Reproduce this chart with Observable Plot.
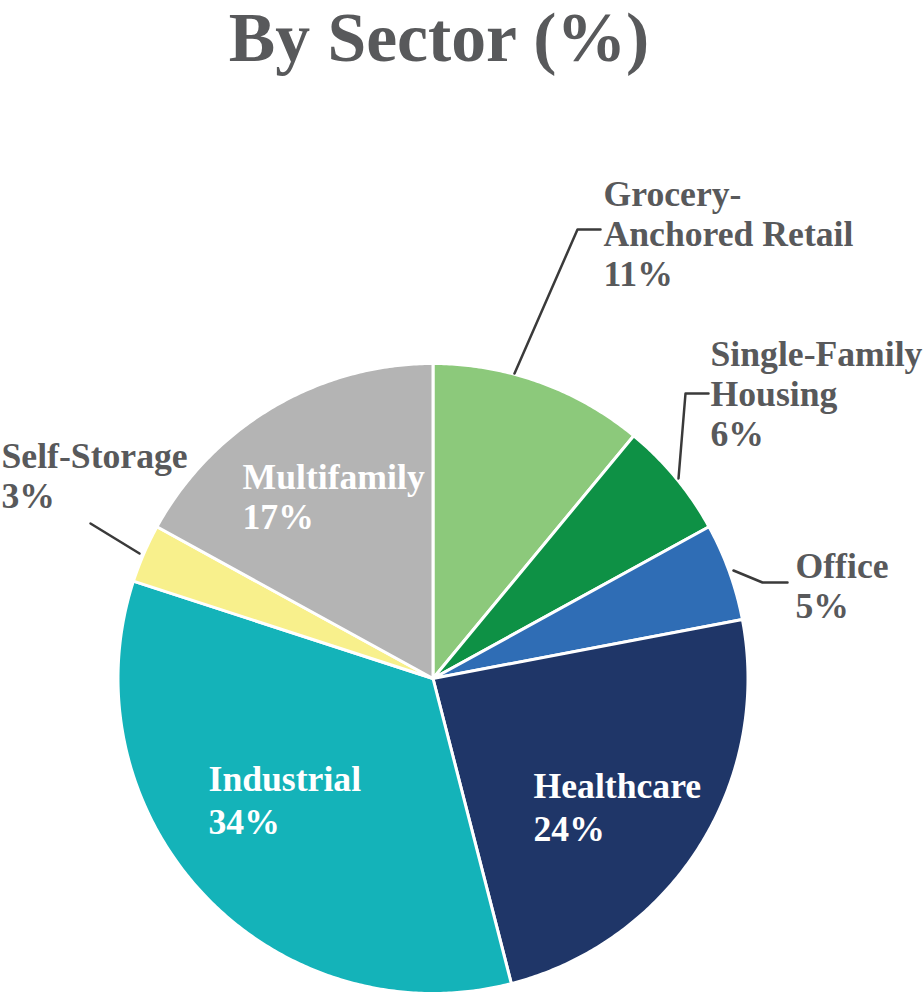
<!DOCTYPE html>
<html><head><meta charset="utf-8">
<script src="https://cdn.jsdelivr.net/npm/d3@7"></script>
<script src="https://cdn.jsdelivr.net/npm/@observablehq/plot@0.6"></script>
<style>
body{margin:0;background:#fff;}
#title{height:96px;box-sizing:border-box;padding-top:2px;width:878px;text-align:center;font-weight:bold;color:#58595b;white-space:nowrap;}
</style></head><body>
<div id="title">By Sector (%)</div>
<div id="chart"></div>
<script>
// ---- data ----
const sectors = ["Grocery-Anchored Retail","Single-Family Housing","Office","Healthcare","Industrial","Self-Storage","Multifamily"];
const shares = [11, 6, 5, 24, 34, 3, 17];
const labelLines = [["Grocery-","Anchored Retail"],["Single-Family","Housing"],["Office"],["Healthcare"],["Industrial"],["Self-Storage"],["Multifamily"]];

// ---- styles / layout ----
const colors = ["#8cc97b","#0e9145","#2f6db5","#1f3668","#14b3b9","#f8f08c","#b4b4b4"];
const inside = [false,false,false,true,true,false,true];
const center = {x: 432.5, y: 678}, R = 315;
const labelPos = [
  {x: 603, ys: [205, 245, 285]},
  {x: 710, ys: [365, 405, 445]},
  {x: 795, ys: [577, 617]},
  {x: 533, ys: [797, 840]},
  {x: 208, ys: [790, 833]},
  {x: 1,   ys: [467, 507]},
  {x: 242, ys: [488, 528]}
];
const leaders = [
  {i: 0, pts: [[514,373],[577,229],[600,229]]},
  {i: 1, pts: [[678,478],[685,393],[708,393]]},
  {i: 2, pts: [[733,570],[762,582],[787,582]]},
  {i: 5, pts: [[90,523],[139,553]]}
];

// ---- pick an installed Times-like serif and size it to the reference widths ----
const cv = document.createElement("canvas").getContext("2d");
function w(fontCss, s) { cv.font = fontCss; return cv.measureText(s).width; }
const probe = "mmmwwlliiIWgQ%";
const candidates = ["Liberation Serif","Tinos","Times New Roman","Nimbus Roman","Nimbus Roman No9 L","FreeSerif","DejaVu Serif"];
let family = "serif";
for (const f of candidates) {
  const a = w(`bold 40px "${f}", monospace`, probe), b = w(`bold 40px monospace`, probe);
  const c = w(`bold 40px "${f}", sans-serif`, probe), d = w(`bold 40px sans-serif`, probe);
  if (a !== b && c !== d) { family = f; break; }
}
const fam = `"${family}", serif`;
const labelSize = 40 * 250 / w(`bold 40px ${fam}`, "Anchored Retail");
const titleSize = 72 * 422 / w(`bold 72px ${fam}`, "By Sector (%)");
const t = document.getElementById("title");
t.style.fontFamily = fam;
t.style.fontSize = titleSize + "px";
t.style.lineHeight = "72px";

// ---- geometry from data ----
const arcs = d3.pie().sort(null).value(d => d)(shares);
const slicePts = [];
arcs.forEach((a, i) => {
  slicePts.push({sector: sectors[i], x: center.x, y: center.y});
  const n = Math.max(4, Math.ceil((a.endAngle - a.startAngle) / (Math.PI / 360)));
  for (let k = 0; k <= n; k++) {
    const th = a.startAngle + (a.endAngle - a.startAngle) * k / n;
    slicePts.push({sector: sectors[i], x: center.x + R * Math.sin(th), y: center.y - R * Math.cos(th)});
  }
});

const textRows = [];
sectors.forEach((s, i) => {
  const lines = [...labelLines[i], `${shares[i]}%`];
  lines.forEach((l, j) => textRows.push({text: l, x: labelPos[i].x, y: labelPos[i].ys[j], inside: inside[i]}));
});
const leaderPts = leaders.flatMap(L => L.pts.map(p => ({id: L.i, x: p[0], y: p[1]})));

const font = {fontFamily: fam, fontSize: labelSize, fontWeight: "bold", textAnchor: "start", lineAnchor: "bottom"};

const chart = Plot.plot({
  width: 923, height: 903, margin: 0,
  x: {domain: [0, 923], range: [0, 923], axis: null},
  y: {domain: [96, 999], range: [0, 903], axis: null},
  color: {type: "ordinal", domain: sectors, range: colors},
  marks: [
    Plot.line(slicePts, {x: "x", y: "y", z: "sector", fill: "sector", stroke: "white", strokeWidth: 3, strokeLinejoin: "round", curve: "linear-closed"}),
    Plot.line(leaderPts, {x: "x", y: "y", z: "id", stroke: "#3a3a3a", strokeWidth: 2.5}),
    Plot.text(textRows.filter(d => !d.inside), {x: "x", y: "y", text: "text", fill: "#58595b", ...font}),
    Plot.text(textRows.filter(d => d.inside), {x: "x", y: "y", text: "text", fill: "white", ...font})
  ]
});
document.getElementById("chart").appendChild(chart);
</script>
</body></html>
